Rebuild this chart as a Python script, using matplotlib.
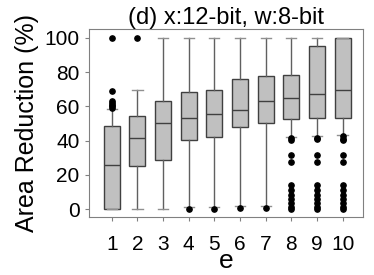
import matplotlib.pyplot as plt

plt.rcParams['font.family'] = ['Liberation Sans', 'DejaVu Sans']

# box statistics per e
e_vals = [1, 2, 3, 4, 5, 6, 7, 8, 9, 10]
q1 = [0, 25.1, 28.4, 40.1, 42.0, 47.7, 50.4, 52.5, 53.3, 53.3]
med = [25.7, 41.4, 50.0, 53.3, 55.6, 57.8, 63.4, 65.0, 67.0, 69.3]
q3 = [48.5, 54.5, 63.0, 68.5, 69.5, 76.0, 77.6, 78.4, 95.2, 100]
whislo = [0, 0, 0, 1.2, 1.2, 2.0, 2.0, 42.2, 42.8, 43.3]
whishi = [58.2, 69.5, 100, 100, 100, 100, 100, 100, 100, 100]
fliers = [
    [100, 69, 63, 62, 61, 60, 59],
    [100],
    [],
    [0.2],
    [0.2],
    [0.8],
    [0.8],
    [41.5, 40.5, 31.5, 27.6, 14, 11, 8.2, 5.6, 3.7, 1.4, 0],
    [41.8, 40.8, 31.5, 27.6, 14, 11, 8.2, 5.6, 3.7, 1.4, 0],
    [42.5, 41.2, 40.2, 31.5, 27.6, 14, 11, 8.2, 5.6, 3.7, 1.4, 0],
]

stats = []
for i in range(len(e_vals)):
    stats.append(dict(label=str(e_vals[i]), q1=q1[i], med=med[i], q3=q3[i],
                      whislo=whislo[i], whishi=whishi[i], fliers=fliers[i]))

fig = plt.figure(figsize=(3.74, 2.75), dpi=100, facecolor='w')
ax = fig.add_axes([0.237, 0.21, 0.734, 0.685])

ax.bxp(stats, positions=e_vals, widths=0.62, patch_artist=True,
       boxprops=dict(facecolor='#c0c0c0', edgecolor='#404040', linewidth=1),
       medianprops=dict(color='#404040', linewidth=1),
       whiskerprops=dict(color='#606060', linewidth=1),
       capprops=dict(color='#909090', linewidth=1),
       capwidths=0.4,
       flierprops=dict(marker='o', markerfacecolor='black', markeredgecolor='black',
                       markersize=3.8, linestyle='none'))

ax.set_xlim(0.1, 10.8)
ax.set_ylim(-4.8, 105.3)
ax.set_yticks([0, 20, 40, 60, 80, 100])
ax.set_xticks(e_vals)
ax.set_xticklabels([str(v) for v in e_vals])
for s in ax.spines.values():
    s.set_color('#808080')
ax.tick_params(colors='#808080', labelcolor='black', labelsize=15, length=3)
ax.tick_params(axis='x', pad=10)

ax.set_title('(d) x:12-bit, w:8-bit', fontsize=17, pad=2)
ax.set_xlabel('e', fontsize=19, labelpad=-4)
ax.set_ylabel('Area Reduction (%)', fontsize=18, labelpad=4)

plt.savefig('out.png', dpi=100)
